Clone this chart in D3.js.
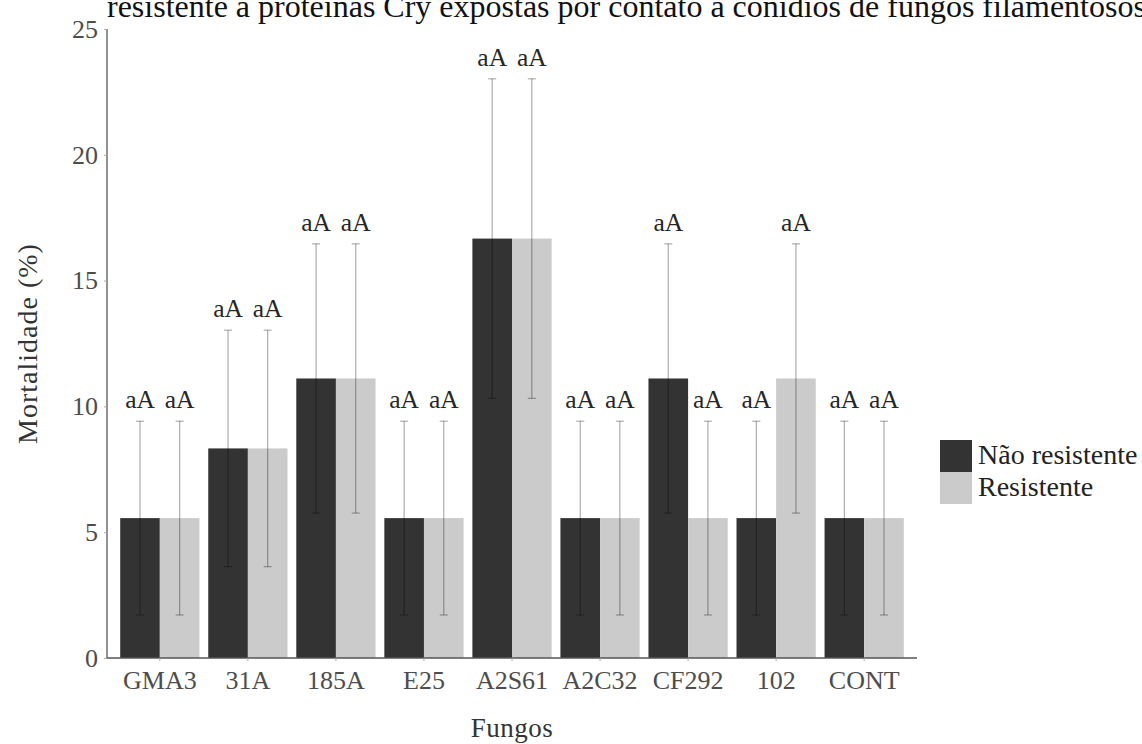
<!DOCTYPE html>
<html>
<head>
<meta charset="utf-8">
<script src="https://cdn.jsdelivr.net/npm/d3@7"></script>
<style>
  html, body { margin: 0; padding: 0; background: #fff; }
  svg { display: block; }
  svg text { font-family: "Liberation Serif", "DejaVu Serif", serif !important; }
</style>
</head>
<body>
<svg id="chart" width="1142" height="744"></svg>
<script>
// Fungal isolates on the x axis
const fungos = ["GMA3", "31A", "185A", "E25", "A2S61", "A2C32", "CF292", "102", "CONT"];
const grupos = ["Não resistente", "Resistente"];

// Mean mortality (%) per isolate for each group
const naoResistente = [5.56, 8.33, 11.11, 5.56, 16.67, 5.56, 11.11, 5.56, 5.56];
const resistente    = [5.56, 8.33, 11.11, 5.56, 16.67, 5.56, 5.56, 11.11, 5.56];

// Half-width of the error bars
const erroNao = [3.85, 4.70, 5.35, 3.85, 6.35, 3.85, 5.35, 3.85, 3.85];
const erroRes = [3.85, 4.70, 5.35, 3.85, 6.35, 3.85, 3.85, 5.35, 3.85];

// Significance letters above each bar
const letrasNao = ["aA", "aA", "aA", "aA", "aA", "aA", "aA", "aA", "aA"];
const letrasRes = ["aA", "aA", "aA", "aA", "aA", "aA", "aA", "aA", "aA"];

const yTicks = [0, 5, 10, 15, 20, 25];

const cores = ["#333333", "#cbcbcb"];
const serif = "Liberation Serif";

const svg = d3.select("#chart");
const mLeft = 107, mRight = 917, mTop = 29, mBottom = 658;

const x = d3.scaleBand().domain(fungos).range([mLeft, mRight])
  .paddingInner(0.1).paddingOuter(0.15);
const xs = d3.scaleBand().domain(grupos).range([0, x.bandwidth()]);
const y = d3.scaleLinear().domain([0, 25]).range([mBottom, mTop]);

// one record per bar
const rows = [];
fungos.forEach((f, i) => {
  rows.push({ f, g: grupos[0], v: naoResistente[i], e: erroNao[i], l: letrasNao[i] });
  rows.push({ f, g: grupos[1], v: resistente[i], e: erroRes[i], l: letrasRes[i] });
});

const cx = d => x(d.f) + xs(d.g) + xs.bandwidth() / 2;

// Bars
svg.append("g").selectAll("rect").data(rows).join("rect")
  .attr("x", d => x(d.f) + xs(d.g))
  .attr("width", xs.bandwidth())
  .attr("y", d => y(d.v))
  .attr("height", d => y(0) - y(d.v))
  .attr("fill", d => cores[grupos.indexOf(d.g)]);

// Error bars
const eb = svg.append("g").attr("stroke", "#000").attr("stroke-opacity", 0.32).attr("stroke-width", 1.2);
eb.selectAll("line.v").data(rows).join("line").attr("class", "v")
  .attr("x1", cx).attr("x2", cx)
  .attr("y1", d => y(d.v - d.e)).attr("y2", d => y(d.v + d.e));
eb.selectAll("line.t").data(rows).join("line").attr("class", "t")
  .attr("x1", d => cx(d) - 4).attr("x2", d => cx(d) + 4)
  .attr("y1", d => y(d.v + d.e)).attr("y2", d => y(d.v + d.e));
eb.selectAll("line.b").data(rows).join("line").attr("class", "b")
  .attr("x1", d => cx(d) - 4).attr("x2", d => cx(d) + 4)
  .attr("y1", d => y(d.v - d.e)).attr("y2", d => y(d.v - d.e));

// Letters
svg.append("g").selectAll("text").data(rows).join("text")
  .attr("x", cx)
  .attr("y", d => y(d.v + d.e) - 13)
  .attr("text-anchor", "middle")
  .attr("font-family", serif)
  .attr("font-size", 25.5)
  .attr("fill", "#262626")
  .text(d => d.l);

// Axes
const axisColor = "#555";
const yAxis = svg.append("g").attr("transform", `translate(${mLeft},0)`)
  .call(d3.axisLeft(y).tickValues(yTicks).tickSize(3).tickPadding(6));
const xAxis = svg.append("g").attr("transform", `translate(0,${mBottom})`)
  .call(d3.axisBottom(x).tickSize(3).tickPadding(10));
[yAxis, xAxis].forEach(a => {
  a.attr("font-family", serif);
  a.select(".domain").attr("stroke", axisColor).attr("stroke-width", 1.3);
  a.selectAll(".tick line").attr("stroke", "#aaa");
  a.selectAll(".tick text").attr("fill", "#4d4d4d").attr("font-size", 26)
    .attr("font-family", serif);
});
yAxis.select(".domain").attr("d", `M0,${y(25)}V${y(0)}`);
xAxis.select(".domain").attr("d", `M${mLeft},0H${mRight}`);

// Axis titles
svg.append("text")
  .attr("x", (mLeft + mRight) / 2).attr("y", 737)
  .attr("text-anchor", "middle").attr("font-family", serif)
  .attr("font-size", 27).attr("letter-spacing", 0.5).attr("fill", "#333")
  .text("Fungos");
svg.append("text")
  .attr("transform", `translate(37,${(mTop + mBottom) / 2}) rotate(-90)`)
  .attr("text-anchor", "middle").attr("font-family", serif)
  .attr("font-size", 28).attr("letter-spacing", 1).attr("fill", "#333")
  .text("Mortalidade (%)");

// Title (second line of a two-line title; first line sits above the frame)
svg.append("text")
  .attr("x", mLeft).attr("y", 17)
  .attr("font-family", serif)
  .attr("font-size", 32).attr("fill", "#111")
  .text("resistente a proteínas Cry expostas por contato a conídios de fungos filamentosos");

// Legend
const lg = svg.append("g").attr("transform", "translate(940,440)");
grupos.forEach((g, i) => {
  lg.append("rect").attr("x", 0).attr("y", i * 32).attr("width", 32).attr("height", 32)
    .attr("fill", cores[i]);
  lg.append("text").attr("x", 38).attr("y", i * 32 + 24)
    .attr("font-family", serif)
    .attr("font-size", 28).attr("fill", "#222").text(g);
});
</script>
</body>
</html>
